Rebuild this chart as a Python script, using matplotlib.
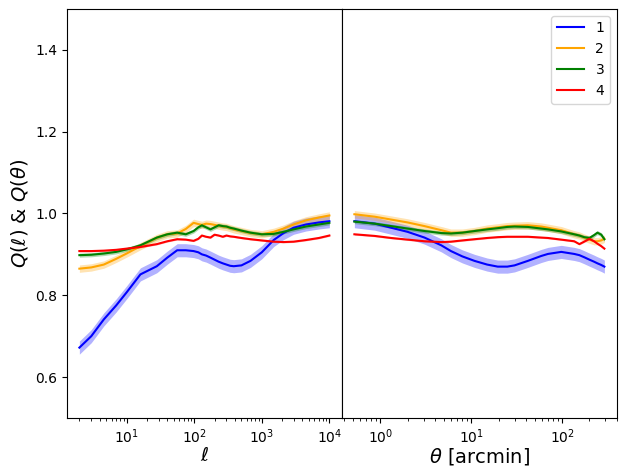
import numpy as np
import matplotlib
matplotlib.use("Agg")
import matplotlib.pyplot as plt

# ---------------- data ----------------
ell = [2, 3, 4.6, 7, 10, 16, 28, 40, 56, 75, 98, 115, 130, 150, 174, 200, 230, 265,
       300, 340, 385, 500, 680, 1000, 1500, 2100, 2950, 4500, 7000, 10000]
q_ell_1 = [0.672, 0.700, 0.741, 0.775, 0.807, 0.851, 0.871, 0.892, 0.910, 0.910, 0.908,
           0.905, 0.900, 0.897, 0.892, 0.887, 0.882, 0.878, 0.875, 0.872, 0.871, 0.873,
           0.884, 0.905, 0.935, 0.952, 0.965, 0.973, 0.978, 0.981]
q_ell_2 = [0.865, 0.868, 0.875, 0.889, 0.902, 0.920, 0.940, 0.949, 0.951, 0.962, 0.977,
           0.974, 0.972, 0.975, 0.974, 0.972, 0.970, 0.968, 0.967, 0.964, 0.961, 0.957,
           0.952, 0.949, 0.955, 0.963, 0.973, 0.983, 0.990, 0.995]
q_ell_3 = [0.898, 0.899, 0.902, 0.906, 0.912, 0.922, 0.941, 0.949, 0.953, 0.949, 0.957,
           0.966, 0.971, 0.966, 0.961, 0.966, 0.971, 0.969, 0.968, 0.965, 0.963, 0.958,
           0.953, 0.949, 0.950, 0.955, 0.961, 0.968, 0.973, 0.977]
q_ell_4 = [0.908, 0.908, 0.909, 0.911, 0.914, 0.918, 0.925, 0.932, 0.937, 0.936, 0.933,
           0.938, 0.946, 0.943, 0.941, 0.948, 0.946, 0.943, 0.946, 0.944, 0.943, 0.940,
           0.937, 0.934, 0.931, 0.930, 0.931, 0.935, 0.940, 0.946]

theta = [0.52, 0.87, 1.32, 2, 3.07, 4.7, 6, 8, 10.9, 15, 19.6, 25, 30, 42, 59, 70, 98,
         136, 155, 175, 200, 225, 245, 270, 292]
q_th_1 = [0.981, 0.975, 0.965, 0.955, 0.941, 0.922, 0.908, 0.895, 0.884, 0.875, 0.870,
          0.870, 0.873, 0.884, 0.896, 0.901, 0.906, 0.901, 0.898, 0.893, 0.887, 0.882,
          0.878, 0.874, 0.870]
q_th_2 = [0.998, 0.992, 0.985, 0.978, 0.969, 0.959, 0.953, 0.953, 0.957, 0.963, 0.966,
          0.969, 0.970, 0.971, 0.968, 0.965, 0.959, 0.949, 0.946, 0.941, 0.936, 0.932,
          0.932, 0.934, 0.938]
q_th_3 = [0.980, 0.975, 0.969, 0.963, 0.957, 0.952, 0.951, 0.953, 0.957, 0.961, 0.964,
          0.967, 0.968, 0.967, 0.963, 0.961, 0.956, 0.949, 0.946, 0.942, 0.940, 0.947,
          0.953, 0.948, 0.937]
q_th_4 = [0.949, 0.945, 0.940, 0.936, 0.932, 0.930, 0.931, 0.934, 0.937, 0.940, 0.942,
          0.943, 0.943, 0.943, 0.941, 0.940, 0.936, 0.932, 0.925, 0.931, 0.938, 0.932,
          0.926, 0.920, 0.914]

labels = ["1", "2", "3", "4"]
colors = ["blue", "orange", "green", "red"]
errs = [0.016, 0.009, 0.005, 0.002]

# ---------------- plot ----------------
fig, (ax1, ax2) = plt.subplots(1, 2, figsize=(6.25, 4.66), dpi=100, sharey=True)
fig.subplots_adjust(left=0.107, right=0.987, top=0.981, bottom=0.103, wspace=0)

for q, c, e, lab in zip([q_ell_1, q_ell_2, q_ell_3, q_ell_4], colors, errs, labels):
    q = np.array(q)
    ax1.fill_between(ell, q - e, q + e, color=c, alpha=0.3, lw=0)
    ax1.plot(ell, q, color=c, lw=1.5, label=lab)

for q, c, e, lab in zip([q_th_1, q_th_2, q_th_3, q_th_4], colors, errs, labels):
    q = np.array(q)
    ax2.fill_between(theta, q - e, q + e, color=c, alpha=0.3, lw=0)
    ax2.plot(theta, q, color=c, lw=1.5, label=lab)

ax1.set_xscale("log")
ax2.set_xscale("log")
ax1.set_ylim(0.5, 1.5)
ax1.set_yticks([0.6, 0.8, 1.0, 1.2, 1.4])
ax2.tick_params(axis="y", left=False)
ax1.set_xlabel(r"$\ell$", fontsize=14, labelpad=0)
ax2.set_xlabel(r"$\theta$ [arcmin]", fontsize=14, labelpad=0)
ax1.set_ylabel(r"$Q(\ell)$ & $Q(\theta)$", fontsize=14)
ax2.legend(loc="upper right")

fig.savefig("out.png", dpi=100)
